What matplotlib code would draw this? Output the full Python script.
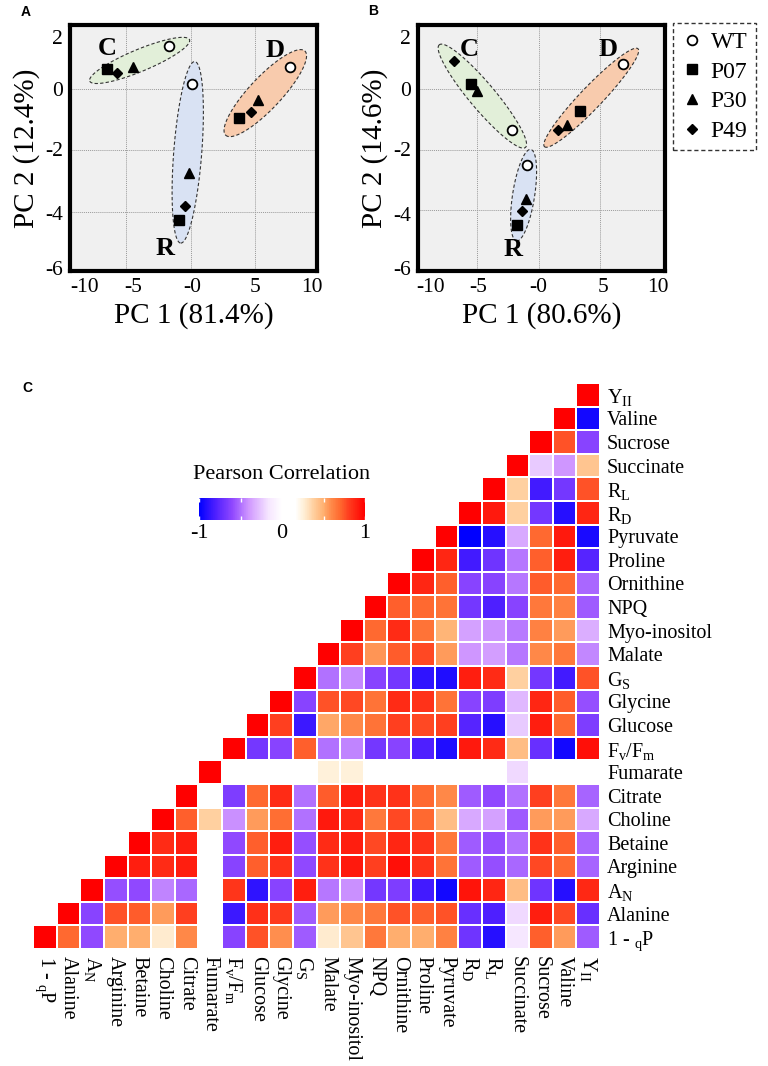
import numpy as np
import matplotlib
matplotlib.use('Agg')
import matplotlib.pyplot as plt
from matplotlib.colors import LinearSegmentedColormap
from matplotlib.lines import Line2D
from matplotlib.patches import Polygon

plt.rcParams['font.family'] = ['Liberation Serif', 'DejaVu Serif']
plt.rcParams['mathtext.fontset'] = 'custom'
plt.rcParams['mathtext.rm'] = 'Liberation Serif'
plt.rcParams['mathtext.it'] = 'Liberation Serif:italic'

# ---------------- PCA scores (order in each group: WT, P07, P30, P49) ----------------
genotypes = ['WT', 'P07', 'P30', 'P49']
groups = ['C', 'R', 'D']
pca_a_pc1 = {'C': [-1.65, -6.46, -4.44, -5.74], 'R': [0.08, -0.90, -0.13, -0.44], 'D': [7.65, 3.77, 5.19, 4.65]}
pca_a_pc2 = {'C': [1.38, 0.65, 0.71, 0.51], 'R': [0.14, -4.26, -2.75, -3.80], 'D': [0.71, -0.95, -0.38, -0.76]}
pca_b_pc1 = {'C': [-2.21, -5.49, -5.00, -6.91], 'R': [-0.98, -1.80, -1.01, -1.37], 'D': [6.89, 3.33, 2.32, 1.56]}
pca_b_pc2 = {'C': [-1.37, 0.16, -0.08, 0.90], 'R': [-2.51, -4.47, -3.63, -4.03], 'D': [0.82, -0.75, -1.18, -1.37]}
var_a = (81.4, 12.4)
var_b = (80.6, 14.6)

# ---------------- correlation matrix (row k holds r with variables k+1 .. 23) ----------------
variables = ['1 - $_{\\rm q}$P', 'Alanine', 'A$_{\\rm N}$', 'Arginine', 'Betaine', 'Choline', 'Citrate',
             'Fumarate', 'F$_{\\rm v}$/F$_{\\rm m}$', 'Glucose', 'Glycine', 'G$_{\\rm S}$', 'Malate',
             'Myo-inositol', 'NPQ', 'Ornithine', 'Proline', 'Pyruvate', 'R$_{\\rm D}$', 'R$_{\\rm L}$',
             'Succinate', 'Sucrose', 'Valine', 'Y$_{\\rm II}$']
corr_rows = [
    [0.70, -0.60, 0.50, 0.50, 0.28, 0.60, 0.00, -0.62, 0.75, 0.58, -0.55, 0.28, 0.42, 0.65, 0.50, 0.50, 0.62, -0.70, -0.90, -0.15, 0.72, 0.55, -0.55],
    [-0.62, 0.75, 0.73, 0.55, 0.80, 0.00, -0.85, 0.85, 0.82, -0.55, 0.55, 0.60, 0.65, 0.75, 0.72, 0.75, -0.72, -0.80, -0.20, 0.90, 0.78, -0.72],
    [-0.58, -0.60, -0.45, -0.52, 0.00, 0.83, -0.88, -0.62, 0.90, -0.48, -0.42, -0.68, -0.65, -0.83, -0.95, 0.93, 0.88, 0.45, -0.70, -0.90, 0.87],
    [0.90, 0.86, 0.90, 0.05, -0.62, 0.72, 0.84, -0.60, 0.84, 0.92, 0.80, 0.95, 0.84, 0.67, -0.55, -0.58, -0.52, 0.78, 0.70, -0.53],
    [0.86, 0.90, 0.05, -0.60, 0.72, 0.90, -0.58, 0.86, 0.90, 0.78, 0.88, 0.84, 0.65, -0.55, -0.58, -0.50, 0.84, 0.72, -0.52],
    [0.72, 0.38, -0.42, 0.55, 0.68, -0.50, 0.92, 0.88, 0.65, 0.78, 0.70, 0.45, -0.35, -0.37, -0.55, 0.55, 0.55, -0.35],
    [0.12, -0.65, 0.70, 0.86, -0.50, 0.73, 0.90, 0.84, 0.84, 0.70, 0.60, -0.55, -0.60, -0.50, 0.80, 0.65, -0.53],
    [0.00, 0.00, 0.00, 0.00, 0.25, 0.25, 0.00, 0.00, 0.00, 0.00, 0.00, 0.00, -0.20, 0.00, 0.00, 0.00],
    [-0.68, -0.62, 0.72, -0.50, -0.45, -0.68, -0.62, -0.80, -0.92, 0.92, 0.86, 0.45, -0.72, -0.95, 0.95],
    [0.80, -0.85, 0.52, 0.60, 0.67, 0.80, 0.78, 0.80, -0.78, -0.90, -0.25, 0.90, 0.70, -0.65],
    [-0.62, 0.75, 0.78, 0.67, 0.86, 0.84, 0.67, -0.62, -0.65, -0.30, 0.88, 0.73, -0.58],
    [-0.50, -0.43, -0.62, -0.68, -0.88, -0.92, 0.90, 0.86, 0.38, -0.68, -0.83, 0.75],
    [0.80, 0.57, 0.73, 0.78, 0.55, -0.40, -0.38, -0.48, 0.60, 0.65, -0.44],
    [0.70, 0.86, 0.67, 0.48, -0.37, -0.41, -0.47, 0.62, 0.55, -0.33],
    [0.72, 0.70, 0.67, -0.68, -0.80, -0.62, 0.65, 0.62, -0.55],
    [0.88, 0.72, -0.62, -0.62, -0.48, 0.73, 0.70, -0.52],
    [0.88, -0.83, -0.70, -0.48, 0.72, 0.90, -0.78],
    [-1.00, -0.90, -0.35, 0.70, 0.92, -0.93],
    [0.92, 0.38, -0.68, -0.90, 0.88],
    [0.38, -0.83, -0.68, 0.75],
    [-0.25, -0.40, 0.42],
    [0.75, -0.62],
    [-0.95],
    [],
]

W, H = 768, 1066
fig = plt.figure(figsize=(W / 100, H / 100), dpi=100)

markers = {'WT': dict(marker='o', ms=7, mfc='white', mec='black', mew=1.3),
           'P07': dict(marker='s', ms=6.5, mfc='black', mec='black'),
           'P30': dict(marker='^', ms=6.5, mfc='black', mec='black'),
           'P49': dict(marker='D', ms=5, mfc='black', mec='black')}
ell_colors = {'C': '#e2efd9', 'R': '#d9e2f3', 'D': '#f8cbad'}


def group_ellipse(ax, xs, ys, minor, color, pad=21):
    # ellipse drawn around a group, in pixel space so it stays round-ish
    pts = ax.transData.transform(np.column_stack([xs, ys]))
    c = pts.mean(axis=0)
    _, _, vt = np.linalg.svd(pts - c)
    d = vt[0]
    n = np.array([-d[1], d[0]])
    proj = (pts - c) @ d
    mid = c + d * (proj.max() + proj.min()) / 2
    half = (proj.max() - proj.min()) / 2 + pad
    t = np.linspace(0, 2 * np.pi, 200)
    ring = mid + np.outer(np.cos(t) * half, d) + np.outer(np.sin(t) * minor, n)
    ring = ax.transData.inverted().transform(ring)
    ax.add_patch(Polygon(ring, closed=True, fc=color, ec='#333333', lw=0.8,
                         ls=(0, (3, 2)), zorder=2))


def pca_panel(rect, pc1, pc2, var, xlim, ylim, xtick_pos, ytick_pos, minors, pads, letters):
    ax = fig.add_axes(rect)
    ax.set_facecolor('#f0f0f0')
    ax.set_xlim(*xlim)
    ax.set_ylim(*ylim)
    for v in (-5, 0, 5):
        ax.axvline(v, color='#9a9a9a', lw=0.7, ls=(0, (1, 1)), zorder=1)
    for v in (-4, -2, 0):
        ax.axhline(v, color='#9a9a9a', lw=0.7, ls=(0, (1, 1)), zorder=1)
    for g in groups:
        group_ellipse(ax, pc1[g], pc2[g], minors[g], ell_colors[g], pads[g])
        for i, gt in enumerate(genotypes):
            ax.plot(pc1[g][i], pc2[g][i], ls='none', zorder=3, **markers[gt])
    for g, (lx, ly) in letters.items():
        ax.text(lx, ly, g, fontsize=19, fontweight='bold', ha='center', va='center', zorder=4)
    ax.set_xticks(xtick_pos)
    ax.set_xticklabels(['-10', '-5', '-0', '5', '10'], family='Liberation Serif')
    ax.set_yticks(ytick_pos)
    ax.set_yticklabels(['2', '0', '-2', '-4', '-6'], family='Liberation Serif')
    ax.tick_params(length=0, labelsize=15.5, pad=5)
    for s in ax.spines.values():
        s.set_linewidth(3)
    ax.set_xlabel('PC 1 (%.1f%%)' % var[0], fontsize=21, labelpad=4)
    ax.set_ylabel('PC 2 (%.1f%%)' % var[1], fontsize=21, labelpad=4)
    return ax


axA = pca_panel([70 / W, 1 - 271 / H, 247 / W, 246 / H], pca_a_pc1, pca_a_pc2, var_a,
                (-9.35, 9.77), (-5.92, 2.07), [-8.2, -4.45, 0.08, 5.0, 9.4], [1.68, 0, -1.96, -4.02, -5.82],
                {'C': 11, 'R': 14, 'D': 16}, {'C': 21, 'R': 23, 'D': 22},
                {'C': (-6.5, 1.3), 'D': (6.5, 1.25), 'R': (-2.0, -5.2)})
axB = pca_panel([418 / W, 1 - 271 / H, 247 / W, 246 / H], pca_b_pc1, pca_b_pc2, var_b,
                (-9.84, 10.3), (-5.99, 2.09), [-8.83, -4.95, 0, 5.25, 9.75], [1.70, 0, -1.98, -4.12, -5.88],
                {'C': 13, 'R': 11, 'D': 11}, {'C': 22, 'R': 16, 'D': 21},
                {'C': (-5.7, 1.3), 'D': (5.65, 1.27), 'R': (-2.1, -5.3)})

handles = [Line2D([], [], ls='none', **markers[gt]) for gt in genotypes]
leg = fig.legend(handles, genotypes, loc='upper left', bbox_to_anchor=(673 / W, 1 - 23 / H),
                 fontsize=17, frameon=True, fancybox=False, edgecolor='black',
                 labelspacing=0.35, handletextpad=0.35, handlelength=0.9, borderpad=0.35,
                 borderaxespad=0)
leg.get_frame().set_linestyle((0, (3, 2)))
leg.get_frame().set_linewidth(1.0)

fig.text(26 / W, 1 - 12 / H, 'A', family='Liberation Sans', fontweight='bold', fontsize=10, ha='center', va='center')
fig.text(373 / W, 1 - 11 / H, 'B', family='Liberation Sans', fontweight='bold', fontsize=10, ha='center', va='center')
fig.text(27 / W, 1 - 388 / H, 'C', family='Liberation Sans', fontweight='bold', fontsize=10, ha='center', va='center')

# ---------------- heatmap ----------------
n = len(variables)
M = np.full((n, n), np.nan)
for k in range(n):
    M[k, k] = 1.0
    M[k, k + 1:] = corr_rows[k]
M = np.ma.masked_invalid(M)

cmap = LinearSegmentedColormap.from_list('pearson', [
    (0.0, '#0000ff'), (0.1, '#5020ff'), (0.2, '#9048ff'), (0.3, '#d098ff'), (0.42, '#f6e6ff'),
    (0.5, '#ffffff'), (0.58, '#ffffff'), (0.63, '#fff0d8'), (0.69, '#ffd0a0'), (0.75, '#ffb070'),
    (0.8, '#ff8848'), (0.85, '#ff6a30'), (0.9, '#ff4020'), (0.95, '#ff2010'), (1.0, '#ff0000')])

axH = fig.add_axes([33 / W, 1 - 949 / H, 567 / W, 566 / H])
mesh = axH.pcolormesh(np.arange(n + 1), np.arange(n + 1), M, cmap=cmap, vmin=-1, vmax=1,
                      edgecolors='white', linewidth=1.2)
axH.set_xlim(0, n)
axH.set_ylim(0, n)
for s in axH.spines.values():
    s.set_visible(False)
axH.set_xticks(np.arange(n) + 0.5)
axH.set_xticklabels(variables, rotation=-90, fontsize=14.5, va='top', ha='center')
axH.yaxis.tick_right()
axH.set_yticks(np.arange(n) + 0.5)
axH.set_yticklabels(variables, fontsize=14.5)
axH.tick_params(length=0, pad=5)

cax = fig.add_axes([199 / W, 1 - 520 / H, 166 / W, 22 / H])
cb = fig.colorbar(mesh, cax=cax, orientation='horizontal')
cb.outline.set_visible(False)
cb.set_ticks([-1, 0, 1])
cb.set_ticklabels(['-1', '0', '1'])
cax.set_xticks([-0.5, 0.5], minor=True)
cax.xaxis.set_ticks_position('both')
cax.tick_params(which='both', direction='in', color='white', length=3, width=1, labelsize=16, pad=3)
cax.set_title('Pearson Correlation', fontsize=16, pad=14)

fig.savefig('out.png', dpi=100)
